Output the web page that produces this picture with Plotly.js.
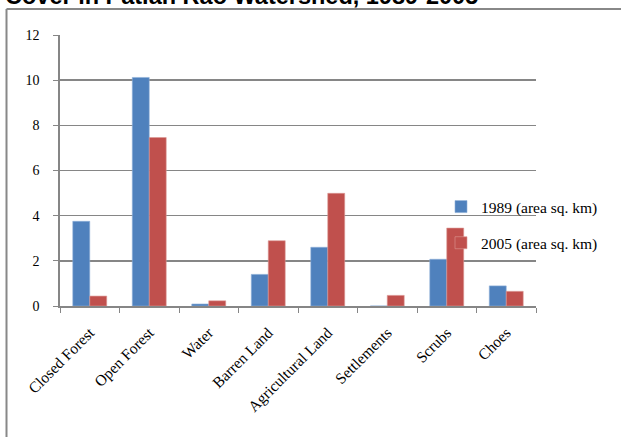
<!DOCTYPE html>
<html><head><meta charset="utf-8">
<script src="https://cdn.plot.ly/plotly-3.0.1.min.js"></script>
<style>html,body{margin:0;padding:0;background:#fff;}#chart{width:621px;height:437px;}</style>
</head><body><div id="chart"></div>
<script>
const categories = ["Closed Forest","Open Forest","Water","Barren Land","Agricultural Land","Settlements","Scrubs","Choes"];
const area1989 = [3.75, 10.12, 0.09, 1.40, 2.60, 0, 2.07, 0.89];
const area2005 = [0.44, 7.46, 0.23, 2.89, 4.99, 0.47, 3.45, 0.65];
const seriesNames = ["1989 (area sq. km)", "2005 (area sq. km)"];
const yTicks = [0,2,4,6,8,10,12];

const W = 621, H = 437;
const m = {l:60, r:85, t:35, b:131};
const pw = W - m.l - m.r, ph = H - m.t - m.b;
const px = x => (x - m.l) / pw;
const py = y => (H - m.b - y) / ph;

const serif = "'Liberation Serif', 'Times New Roman', serif";
const traces = [
  {type:'bar', x:categories, y:area1989, name:seriesNames[0], legendgroup:'a',
   marker:{color:'#4F81BD', line:{color:'#8fb0d8', width:0.6}}},
  {type:'bar', x:categories, y:area2005, name:seriesNames[1], legendgroup:'b',
   marker:{color:'#C0504D', line:{color:'#dc9896', width:0.6}}}
];
const layout = {
  width:W, height:H, margin:m,
  paper_bgcolor:'#fff', plot_bgcolor:'#fff',
  font:{family:serif, size:14, color:'#000'},
  title:{text:"Cover in Patian Rao Watershed, 1989-2005",
    font:{family:"'Liberation Sans', Arial, sans-serif", size:23.5, weight:'bold', color:'#000'},
    xref:'container', yref:'container', x:5/W, xanchor:'left', y:1-4/H, yanchor:'bottom'},
  barmode:'group', bargap:0.43, bargroupgap:0,
  xaxis:{type:'category', tickangle:-45, ticks:'outside', tickson:'boundaries', ticklen:5,
    tickcolor:'#868686', showline:true, linecolor:'#868686', linewidth:1.6, showgrid:false,
    tickfont:{family:serif, size:15.5}, ticklabelstandoff:10},
  yaxis:{range:[0,12], tickvals:yTicks, ticks:'outside', ticklen:5, tickcolor:'#868686',
    showline:true, linecolor:'#868686', linewidth:1.6, gridcolor:'#868686', gridwidth:1.6,
    zeroline:false, tickfont:{family:serif, size:14}, ticklabelstandoff:11},
  showlegend:true,
  legend:{x:px(441), xanchor:'left', y:py(190), yanchor:'top', bgcolor:'rgba(0,0,0,0)',
    font:{family:serif, size:15.5, color:'#000'}, traceorder:'grouped', tracegroupgap:13},
  shapes:[
    {type:'line', xref:'paper', yref:'paper', x0:px(6.5), x1:px(640), y0:py(9), y1:py(9), line:{color:'#888', width:2}},
    {type:'line', xref:'paper', yref:'paper', x0:px(6.5), x1:px(6.5), y0:py(9), y1:py(460), line:{color:'#888', width:2}}
  ]
};
Plotly.newPlot('chart', traces, layout, {displayModeBar:false, staticPlot:true});
</script></body></html>
